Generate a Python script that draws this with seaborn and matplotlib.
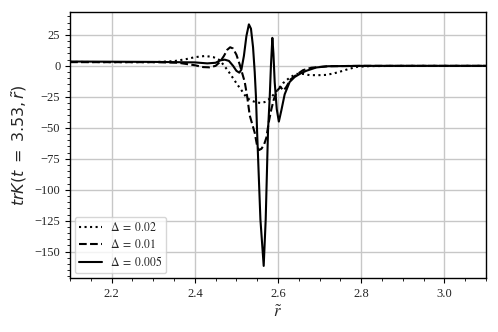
import numpy as np
import matplotlib
matplotlib.use("Agg")
import matplotlib.pyplot as plt
from matplotlib.ticker import MultipleLocator
import seaborn as sns

# ── Data ───────────────────────────────────────────────────
x_d02 = [2.10, 2.20, 2.30, 2.35, 2.38, 2.40, 2.425, 2.445, 2.46, 2.472, 2.482,
         2.492, 2.502, 2.512, 2.524, 2.535, 2.548, 2.56, 2.57, 2.578, 2.59,
         2.60, 2.612, 2.628, 2.644, 2.66, 2.676, 2.70, 2.716, 2.735, 2.748,
         2.77, 2.79, 2.82, 2.90, 3.10]
y_d02 = [3.2, 3.0, 3.0, 3.8, 5.5, 7.0, 8.0, 7.0, 4.6, -0.5, -5,
         -10, -15, -19.6, -25.5, -28, -29.5, -30, -29, -27, -23,
         -19, -14, -9.5, -6.5, -6.5, -7.5, -7.5, -7.3, -6, -4.8,
         -2.5, -0.8, -0.2, 0.0, 0.0]

x_d01 = [2.10, 2.30, 2.36, 2.40, 2.42, 2.435, 2.45, 2.46, 2.47, 2.478, 2.485,
         2.492, 2.50, 2.508, 2.514, 2.52, 2.526, 2.532, 2.538, 2.544, 2.55,
         2.554, 2.56, 2.566, 2.572, 2.578, 2.584, 2.59, 2.598, 2.606, 2.613,
         2.62, 2.63, 2.645, 2.66, 2.68, 2.72, 2.80, 3.10]
y_d01 = [3.0, 3.0, 2.5, 0.5, -1, -1.2, 0, 3, 8, 13, 15,
         14, 9, 1, -6, -13, -25, -40, -47, -54, -65,
         -68, -67, -64, -58, -45, -35, -27, -20, -17, -20,
         -17, -11, -7, -3.5, -1.5, -0.3, 0.0, 0.0]

x_d005 = [2.10, 2.30, 2.40, 2.43, 2.45, 2.462, 2.472, 2.482, 2.492, 2.50, 2.507,
          2.512, 2.518, 2.524, 2.530, 2.535, 2.540, 2.544, 2.547, 2.5496, 2.5577,
          2.5656, 2.5704, 2.576, 2.580, 2.583, 2.5864, 2.589, 2.592, 2.597, 2.602,
          2.608, 2.616, 2.628, 2.64, 2.655, 2.668, 2.692, 2.72, 2.80, 3.10]
y_d005 = [3.5, 3.2, 2.8, 2.0, 2.5, 4.5, 5.0, 4, 0, -4, -5.5,
          -3, 8, 24, 33.5, 30, 15, -5, -25, -52, -124,
          -161.5, -124, -52, -26, 0, 22.6, 10, -13, -35, -45,
          -36, -23, -13, -9, -6, -4, -1.3, -0.3, 0.0, 0.0]

series = [
    (x_d02, y_d02, ":", r"$\Delta\;=\;0.02$"),
    (x_d01, y_d01, "--", r"$\Delta\;=\;0.01$"),
    (x_d005, y_d005, "-", r"$\Delta\;=\;0.005$"),
]

# ── Style ──────────────────────────────────────
sns.set_style("ticks")
plt.rcParams.update({
    "font.family": "serif",
    "font.serif": ["Liberation Serif", "DejaVu Serif"],
    "mathtext.fontset": "stix",
    "xtick.labelsize": 9,
    "ytick.labelsize": 9,
})

fig = plt.figure(figsize=(4.98, 3.32), dpi=100)
ax = fig.add_axes([0.1406, 0.1627, 0.8353, 0.8003])

for xs, ys, ls, lab in series:
    sns.lineplot(x=xs, y=ys, ax=ax, color="black", linestyle=ls,
                 linewidth=1.5, label=lab, sort=False)

ax.set_xlim(2.1, 3.1)
ax.xaxis.set_major_locator(MultipleLocator(0.2))
ax.xaxis.set_minor_locator(MultipleLocator(0.05))
ax.yaxis.set_major_locator(MultipleLocator(25))
ax.yaxis.set_minor_locator(MultipleLocator(5))
ax.tick_params(which="major", length=3.5, width=0.8, color="black")
ax.tick_params(which="minor", length=2, width=0.6, color="black")
ax.grid(True, which="major", color="0.78", linewidth=1.0)
for sp in ax.spines.values():
    sp.set_color("black")
    sp.set_linewidth(1.0)

ax.set_xlabel(r"$\tilde{r}$", fontsize=12)
ylab = ax.set_ylabel(r"$trK(t\;=\;3.53,\tilde{r})$", fontsize=11.5, labelpad=4)
ylab.set_math_fontfamily("dejavusans")

leg = ax.legend(loc="lower left", fontsize=8.5, handlelength=2.0,
                handletextpad=0.6, frameon=True, fancybox=True,
                framealpha=0.8, edgecolor="0.8", borderpad=0.35,
                labelspacing=0.35, borderaxespad=0.4)

fig.savefig("out.png", dpi=100)
